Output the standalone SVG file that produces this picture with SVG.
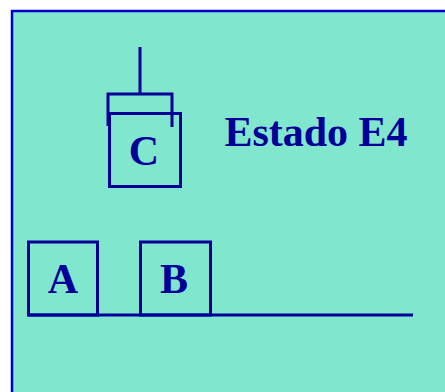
<svg xmlns="http://www.w3.org/2000/svg" width="445" height="392" viewBox="0 0 445 392">
<style>
.box{fill:none;stroke:#000099;stroke-width:3}
.ln{fill:none;stroke:#000099;stroke-width:3}
.t{font-family:"Liberation Serif","Times New Roman",serif;font-weight:bold;font-size:42px;fill:#000099;text-anchor:middle}
</style>
<rect x="0" y="0" width="445" height="392" fill="#ffffff"/>
<rect x="12" y="11" width="440" height="390" fill="#80E6CE" stroke="#0000CC" stroke-width="2.5"/>
<g id="gripper">
<path class="ln" d="M140 47 V94 M108 126 V94 H172 V127"/>
</g>
<g id="C">
<rect class="box" x="109.5" y="113.5" width="71" height="73"/>
<text class="t" x="144" y="165">C</text>
</g>
<g id="A">
<rect class="box" x="28.5" y="242" width="69" height="73"/>
<text class="t" x="63" y="293">A</text>
</g>
<g id="B">
<rect class="box" x="140.5" y="242" width="70" height="73"/>
<text class="t" x="174" y="293">B</text>
</g>
<g id="connectors">
<path class="ln" d="M28 315 H413"/>
</g>
<g id="label">
<text class="t" x="316" y="146">Estado E4</text>
</g>
</svg>
